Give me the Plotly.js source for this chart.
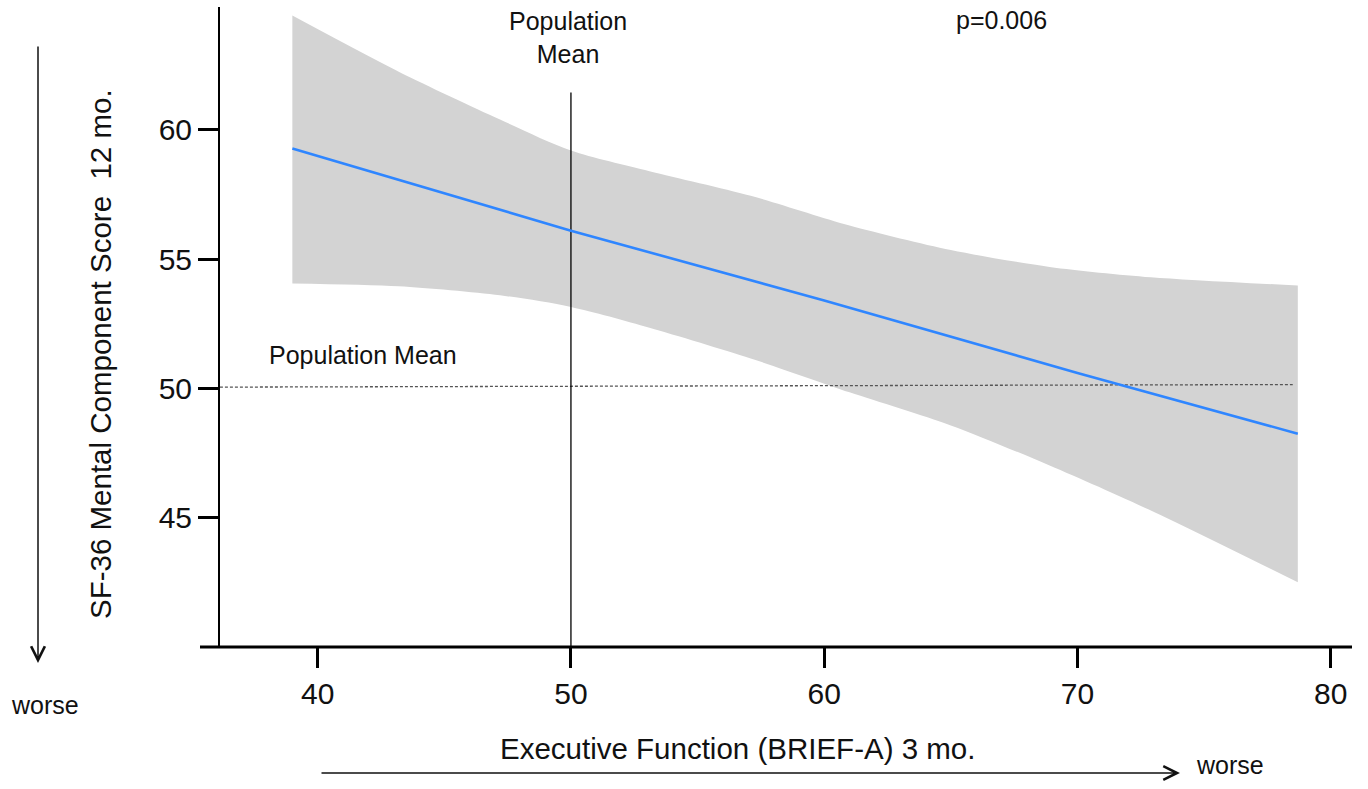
<!DOCTYPE html>
<html>
<head>
<meta charset="utf-8">
<script src="https://cdn.plot.ly/plotly-3.0.1.min.js"></script>
<style>html,body{margin:0;padding:0;background:#fff;}#chart{width:1368px;height:789px;}</style>
</head>
<body>
<div id="chart"></div>
<script>
// Data
const bandX = [39, 43.2, 47.2, 50, 53.1, 57.1, 61, 65, 68.9, 72.9, 78.7];
const bandUpper = [64.42, 62.25, 60.4, 59.2, 58.4, 57.45, 56.3, 55.35, 54.7, 54.3, 53.98];
const bandLower = [54.06, 53.95, 53.6, 53.15, 52.35, 51.16, 49.85, 48.57, 47.02, 45.28, 42.5];
const fitX = [39, 50, 60, 70, 78.7];
const fitY = [59.28, 56.1, 53.4, 50.6, 48.25];
const popMeanX = [36.14, 78.5];
const popMeanY = [50.05, 50.15];
const meanBriefX = 50;
const meanBriefTop = 61.44;
const xTicks = [40, 50, 60, 70, 80];
const yTicks = [45, 50, 55, 60];

const FONT = 'Liberation Sans, Arial, sans-serif';
// plot area: left 220, right 1352, top 7, bottom 647
const L = 220, R = 1352, T = 7, B = 647;
const px = v => (v - L) / (R - L);
const py = v => (B - v) / (B - T);

const traces = [
  {x: bandX, y: bandLower, mode: 'lines', line: {width: 0, color: 'rgba(0,0,0,0)', shape: 'spline', smoothing: 0.8}, hoverinfo: 'skip', showlegend: false},
  {x: bandX, y: bandUpper, mode: 'lines', fill: 'tonexty', fillcolor: '#d3d3d3', line: {width: 0, color: 'rgba(0,0,0,0)', shape: 'spline', smoothing: 0.8}, hoverinfo: 'skip', showlegend: false},
  {x: popMeanX, y: popMeanY, mode: 'lines', line: {color: '#555555', width: 1.3, dash: '3px,2px'}, showlegend: false},
  {x: [meanBriefX, meanBriefX], y: [40, meanBriefTop], mode: 'lines', line: {color: '#000000', width: 1.3}, showlegend: false},
  {x: fitX, y: fitY, mode: 'lines', line: {color: '#2f86ff', width: 2.6}, showlegend: false}
];

const ann = (x, y, text, extra) => Object.assign({xref: 'paper', yref: 'paper', x: px(x), y: py(y), text: text, showarrow: false, xanchor: 'center', yanchor: 'middle', font: {family: FONT, size: 25, color: '#111'}}, extra || {});

const layout = {
  width: 1368, height: 789,
  margin: {l: L, r: 1368 - R, t: T, b: 789 - B, pad: 0},
  paper_bgcolor: '#fff', plot_bgcolor: '#fff',
  showlegend: false,
  xaxis: {range: [36.143, 80.84], showgrid: false, zeroline: false, showline: false,
    tickmode: 'array', tickvals: xTicks, ticktext: xTicks.map(String),
    ticks: 'outside', ticklen: 20, tickwidth: 3, tickcolor: '#000',
    tickfont: {family: FONT, size: 30, color: '#111'}},
  yaxis: {range: [40, 64.75], showgrid: false, zeroline: false, showline: true, linewidth: 2, linecolor: '#000',
    tickmode: 'array', tickvals: yTicks, ticktext: yTicks.map(String),
    ticks: 'outside', ticklen: 20, tickwidth: 3, tickcolor: '#000',
    tickfont: {family: FONT, size: 30, color: '#111'}},
  shapes: [
    {type: 'line', xref: 'paper', yref: 'paper', x0: px(200), x1: px(1352), y0: 0, y1: 0, line: {color: '#000', width: 3}, layer: 'above'}
  ],
  annotations: [
    ann(568, 37, 'Population<br>Mean'),
    ann(1001, 20, 'p=0.006'),
    ann(363, 355, 'Population Mean'),
    ann(100, 354, 'SF-36 Mental Component Score  12 mo.', {textangle: -90, font: {family: FONT, size: 29.5, color: '#111'}}),
    ann(737, 748, 'Executive Function (BRIEF-A) 3 mo.', {font: {family: FONT, size: 29.5, color: '#111'}}),
    ann(45, 705, 'worse'),
    ann(1230, 765, 'worse'),
    {xref: 'paper', yref: 'paper', x: px(38), y: py(663), ax: 0, ay: -618, text: '', showarrow: true, arrowhead: 5, arrowsize: 1.8, arrowwidth: 1.5, arrowcolor: '#111'},
    {xref: 'paper', yref: 'paper', x: px(1180), y: py(773), ax: -860, ay: 0, text: '', showarrow: true, arrowhead: 5, arrowsize: 1.8, arrowwidth: 1.5, arrowcolor: '#111'}
  ]
};

Plotly.newPlot('chart', traces, layout, {displayModeBar: false, staticPlot: true});
</script>
</body>
</html>
